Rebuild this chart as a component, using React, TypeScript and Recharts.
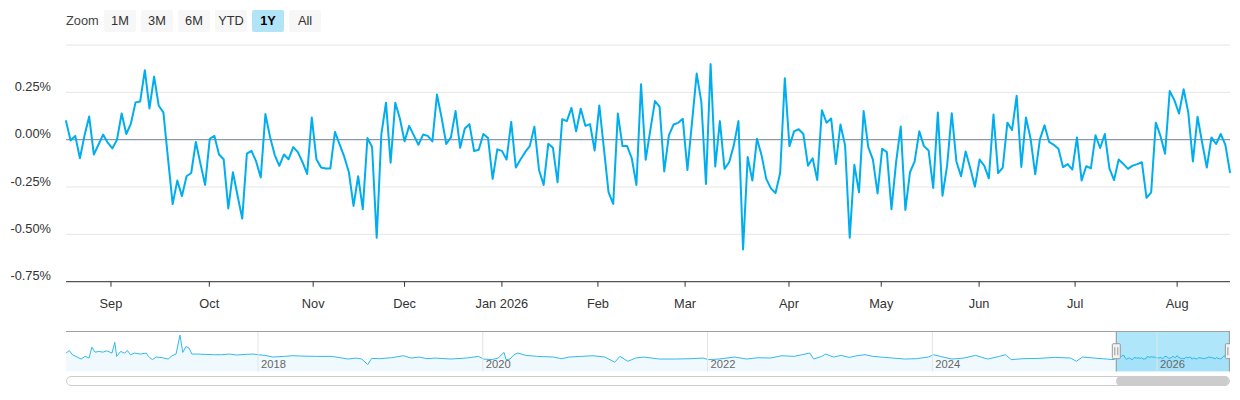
import React from 'react';
import {
  LineChart,
  Line,
  XAxis,
  YAxis,
  CartesianGrid,
  ReferenceLine,
  ReferenceArea,
  AreaChart,
  Area,
} from 'recharts';

const FONT = '"Liberation Sans", Arial, Helvetica, sans-serif';

// Daily values (%) for the visible 1-year window (trading days)
const DAILY_VALUES: number[] = [
  0.098, -0.004, 0.02, -0.098, 0.023, 0.122, -0.078, -0.027, 0.027, -0.016, -0.046, 0, 0.138, 0.03, 0.085, 0.197,
  0.202, 0.367, 0.165, 0.333, 0.179, 0.144, -0.1, -0.34, -0.216, -0.298, -0.193, -0.176, -0.012, -0.128, -0.239, 0.005,
  0.02, -0.078, -0.103, -0.363, -0.172, -0.296, -0.417, -0.074, -0.059, -0.115, -0.2, 0.135, 0.014, -0.08, -0.138,
  -0.078, -0.103, -0.039, -0.066, -0.119, -0.181, 0.117, -0.103, -0.147, -0.152, -0.152, 0.041, -0.025, -0.09, -0.172,
  -0.35,
  -0.193, -0.367, 0.009, -0.039, -0.518, 0.028, 0.195, -0.122, 0.195, 0.112, -0.009, 0.073, 0.023, -0.027, 0.027,
  0.02, -0.009, 0.238, 0.115, -0.023, 0.012, 0.151, -0.043, 0.059, 0.082, -0.06, -0.053, 0.03, 0.009, -0.207, -0.051,
  -0.059, -0.105, 0.094, -0.147, -0.105, -0.066, -0.034, 0.069, -0.16, -0.239, -0.021, -0.043, -0.225, 0.108, 0.098,
  0.168, 0.044, 0.163, 0.073, 0.082, -0.057, 0.181, -0.048, -0.278, -0.339, 0.138, -0.034, -0.034, -0.098, -0.239,
  0.293,
  -0.106, 0.05, 0.204, 0.174, -0.168, 0.023, 0.08, 0.089, 0.11, -0.16, 0.094, 0.349, 0.2, -0.234, 0.399, -0.142,
  0.098, -0.154, -0.119, -0.03, 0.098, -0.58, -0.092, -0.216, 0.005, -0.083, -0.207, -0.257, -0.282, -0.176, 0.324,
  -0.034, 0.044, 0.055, 0.03, -0.137, -0.098, -0.213, 0.156, 0.09, 0.112, -0.129, 0.08, -0.03, -0.518, -0.133,
  -0.278, 0.151, -0.039, -0.105, -0.284, -0.048, -0.066, -0.367, -0.119, 0.069, -0.371, -0.172, -0.115, 0.044,
  -0.034, -0.057,
  -0.255, 0.144, -0.296, -0.137, 0.14, -0.115, -0.193, -0.062, -0.151, -0.248, -0.105, -0.137, -0.204, 0.133, -0.177,
  -0.147, 0.09, 0.051, 0.232, -0.144, 0.117, 0.005, -0.183, 0, 0.076, -0.012, -0.027, -0.048, -0.145, -0.129, -0.158,
  0.012, -0.215, -0.14, -0.151, 0.023, -0.044, 0.03, -0.151, -0.213, -0.105, -0.128, -0.154, -0.137, -0.129, -0.119,
  -0.307, -0.278, 0.09, 0.02, -0.074, 0.257, 0.209, 0.138, 0.266, 0.144, -0.115, 0.121, -0.016, -0.147, 0.012,
  -0.023, 0.03, -0.027, -0.172,
];

// Month starts, expressed as trading-day positions
const MONTH_TICKS: number[] = [9.7, 30.9, 53.3, 73.0, 94.0, 114.7, 133.5, 155.9, 175.8, 196.9, 217.6, 239.6];
const MONTH_LABELS: string[] = ['Sep', 'Oct', 'Nov', 'Dec', 'Jan 2026', 'Feb', 'Mar', 'Apr', 'May', 'Jun', 'Jul', 'Aug'];

const Y_TICKS: number[] = [-0.75, -0.5, -0.25, 0, 0.25, 0.5];

const ZOOM_BUTTONS: string[] = ['1M', '3M', '6M', 'YTD', '1Y', 'All'];
const SELECTED_BUTTON = '1Y';

const NAV_YEAR_TICKS: number[] = [2018, 2020, 2022, 2024, 2026];
const NAV_START_YEAR = 2016.292;
const RANGE_START_YEAR = 2025.633;
const RANGE_END_YEAR = 2026.648;
const NAV_Y_MIN = -1.69;
const NAV_Y_MAX = 3.18;
const NAV_GROUP_SIZE = 3;

// Navigator history before the selected window: [year, value %]
const NAV_HISTORY: [number, number][] = [
  [2016.292, 0.52], [2016.32, 0.83], [2016.348, 0.32], [2016.39, 0.04], [2016.426, -0.2], [2016.461, 0.12],
  [2016.496, -0.08], [2016.521, 1.23], [2016.549, 0.63], [2016.584, 0.71], [2016.619, 0.63], [2016.654, 0.79],
  [2016.7, 0.52], [2016.725, 1.82], [2016.742, 0.12], [2016.777, 0.71], [2016.813, 0.52], [2016.837, 0.83],
  [2016.865, 0.32], [2016.9, 0.52], [2016.953, 0.4], [2017.006, 0.52], [2017.024, 0.12], [2017.059, -0.27],
  [2017.094, 0.04], [2017.147, -0.04], [2017.2, -0.2], [2017.235, 0.2], [2017.27, 0.4], [2017.305, 2.69],
  [2017.33, 0.6], [2017.358, 1.31], [2017.386, 1.11], [2017.411, 0.4], [2017.463, 0.4], [2017.534, 0.36],
  [2017.604, 0.32], [2017.674, 0.32], [2017.745, 0.4], [2017.815, 0.28], [2017.885, 0.36], [2017.956, 0.4],
  [2018.001, 0.32], [2018.061, 0.24], [2018.132, 0.04], [2018.237, 0.12], [2018.307, 0.2], [2018.378, 0.16],
  [2018.518, 0.12], [2018.659, 0.12], [2018.73, -0.04], [2018.8, -0.2], [2018.87, -0.08], [2018.923, -0.2],
  [2018.976, -0.87], [2019.011, -0.12], [2019.081, -0.16], [2019.187, -0.04], [2019.292, 0.2], [2019.363, -0.08],
  [2019.433, 0.04], [2019.503, -0.16], [2019.574, -0.08], [2019.714, -0.2], [2019.855, -0.08], [2019.961, 0.12],
  [2020.006, -0.2], [2020.084, -0.27], [2020.136, -0.08], [2020.189, 0.6], [2020.207, -0.27], [2020.242, -0.2],
  [2020.277, 0.32], [2020.312, 0.52], [2020.383, 0.24], [2020.488, 0.12], [2020.629, 0.04], [2020.699, -0.16],
  [2020.77, 0.04], [2020.875, 0.12], [2020.981, 0.2], [2021.086, 0.04], [2021.174, -0.59], [2021.22, 0.12],
  [2021.291, -0.47], [2021.361, -0.08], [2021.432, 0.04], [2021.572, -0.2], [2021.713, -0.2], [2021.854, -0.16],
  [2021.959, -0.08], [2022.008, -0.27], [2022.1, -0.2], [2022.241, 0.04], [2022.346, -0.2], [2022.452, -0.04],
  [2022.557, -0.08], [2022.663, 0.2], [2022.768, 0.12], [2022.839, 0.32], [2022.909, 0.52], [2022.944, -0.2],
  [2023.015, 0.12], [2023.05, 0.4], [2023.12, 0.04], [2023.19, 0.24], [2023.261, 0.0], [2023.331, 0.2],
  [2023.401, 0.32], [2023.472, 0.12], [2023.542, 0.04], [2023.648, -0.08], [2023.753, -0.2], [2023.859, -0.16],
  [2023.964, 0.04], [2024.01, 0.32], [2024.07, 0.12], [2024.175, -0.2], [2024.281, -0.08], [2024.386, 0.24],
  [2024.492, -0.2], [2024.597, 0.12], [2024.65, 0.32], [2024.703, -0.27], [2024.808, -0.16], [2024.949, -0.12],
  [2025.09, 0.0], [2025.23, -0.08], [2025.283, -0.47], [2025.336, 0.04], [2025.441, -0.08], [2025.547, -0.2],
  [2025.62, -0.27],
];

const mainData = DAILY_VALUES.map((v, i) => ({ i, v }));

// Navigator shows the selected year grouped (averaged) like a data-grouped navigator series
const dayToYear = (i: number) =>
  RANGE_START_YEAR + (i * (RANGE_END_YEAR - RANGE_START_YEAR)) / (DAILY_VALUES.length - 1);
const groupedRecent: { t: number; v: number }[] = [];
for (let s = 0; s < DAILY_VALUES.length; s += NAV_GROUP_SIZE) {
  const chunk = DAILY_VALUES.slice(s, s + NAV_GROUP_SIZE);
  const avg = chunk.reduce((a, b) => a + b, 0) / chunk.length;
  groupedRecent.push({ t: dayToYear(s), v: avg });
}
groupedRecent.push({ t: RANGE_END_YEAR, v: DAILY_VALUES[DAILY_VALUES.length - 1] });

const navData = [...NAV_HISTORY.map(([t, v]) => ({ t, v })), ...groupedRecent];

const LINE_COLOR = '#00aeef';

const YTick = (props: any) => {
  const { y, payload } = props;
  if (payload.value === 0.5) return <g />;
  return (
    <text x={51} y={y - 1.5} textAnchor="end" fontSize={12.8} fill="#333" fontFamily={FONT}>
      {payload.value.toFixed(2)}%
    </text>
  );
};

const XTick = (props: any) => {
  const { x, y, payload } = props;
  const idx = MONTH_TICKS.indexOf(payload.value);
  return (
    <text x={x} y={y + 18.8} textAnchor="middle" fontSize={12.8} fill="#333" fontFamily={FONT}>
      {idx >= 0 ? MONTH_LABELS[idx] : ''}
    </text>
  );
};

const NavYearLabel = (props: any) => {
  const { viewBox, text } = props;
  const x = viewBox ? viewBox.x : 0;
  return (
    <text x={x + 3} y={36.7} fontSize={11.2} fill="#666" fontFamily={FONT}>
      {text}
    </text>
  );
};

const MaskShape = (props: any) => {
  const { x, y, width, height } = props;
  const hw = 8;
  const hh = 15;
  const cy = y + height / 2;
  const handle = (hx: number) => (
    <g>
      <rect x={hx - hw / 2} y={cy - hh / 2} width={hw} height={hh} fill="#f2f2f2" stroke="#999" strokeWidth={1} rx={1} />
      <line x1={hx - 1.5} x2={hx - 1.5} y1={cy - 4} y2={cy + 4} stroke="#999" strokeWidth={1} />
      <line x1={hx + 1.5} x2={hx + 1.5} y1={cy - 4} y2={cy + 4} stroke="#999" strokeWidth={1} />
    </g>
  );
  return (
    <g>
      <rect x={x} y={y} width={width} height={height} fill="rgba(0,174,239,0.31)" />
      <line x1={x + 0.5} x2={x + 0.5} y1={y} y2={y + height} stroke="#999" strokeWidth={1} />
      <line x1={x + width - 0.5} x2={x + width - 0.5} y1={y} y2={y + height} stroke="#999" strokeWidth={1} />
      {handle(x + 0.5)}
      {handle(x + width - 0.5)}
    </g>
  );
};

export default function App() {
  const navLeft = 66;
  const navWidth = 1164;
  const thumbLeft = navLeft + ((RANGE_START_YEAR - NAV_START_YEAR) / (RANGE_END_YEAR - NAV_START_YEAR)) * navWidth;
  const thumbRight = navLeft + navWidth - 1;

  return (
    <div
      style={{
        position: 'absolute',
        left: 0,
        top: 0,
        width: 1240,
        height: 400,
        background: '#fff',
        fontFamily: FONT,
        overflow: 'hidden',
      }}
    >
      {/* Range selector */}
      <div
        style={{
          position: 'absolute',
          left: 66,
          top: 10,
          height: 22,
          lineHeight: '22px',
          fontSize: 12.8,
          color: '#444',
        }}
      >
        Zoom
      </div>
      {ZOOM_BUTTONS.map((b, k) => {
        const sel = b === SELECTED_BUTTON;
        return (
          <div
            key={b}
            style={{
              position: 'absolute',
              left: 104 + k * 37,
              top: 10,
              width: 32,
              height: 22,
              lineHeight: '22px',
              textAlign: 'center',
              fontSize: 12.8,
              borderRadius: 2,
              background: sel ? '#b2e4f7' : '#f7f7f7',
              color: sel ? '#000' : '#333',
              fontWeight: sel ? 'bold' : 'normal',
            }}
          >
            {b}
          </div>
        );
      })}

      {/* Main chart */}
      <div style={{ position: 'absolute', left: 0, top: 0 }}>
        <LineChart width={1240} height={320} data={mainData} margin={{ top: 45, right: 10, bottom: 8.3, left: 6 }}>
          <CartesianGrid horizontal vertical={false} stroke="#e6e6e6" />
          <XAxis
            dataKey="i"
            type="number"
            domain={[0, DAILY_VALUES.length - 1]}
            ticks={MONTH_TICKS}
            interval={0}
            height={30}
            tickSize={5}
            tickMargin={2}
            allowDecimals
            axisLine={{ stroke: '#333' }}
            tickLine={{ stroke: '#333' }}
            tick={<XTick />}
          />
          <YAxis
            type="number"
            domain={[-0.75, 0.5]}
            ticks={Y_TICKS}
            interval={0}
            width={60}
            axisLine={false}
            tickLine={false}
            tick={<YTick />}
          />
          <ReferenceLine y={0} stroke="#7a8799" strokeWidth={1} />
          <Line
            dataKey="v"
            type="linear"
            stroke={LINE_COLOR}
            strokeWidth={2}
            strokeLinejoin="round"
            strokeLinecap="round"
            dot={false}
            activeDot={false}
            isAnimationActive={false}
          />
        </LineChart>
      </div>

      {/* Navigator */}
      <div style={{ position: 'absolute', left: navLeft, top: 331.3 }}>
        <AreaChart width={navWidth} height={40.4} data={navData} margin={{ top: 0, right: 0, bottom: 0, left: 0 }}>
          <XAxis dataKey="t" type="number" domain={[NAV_START_YEAR, RANGE_END_YEAR]} hide />
          <YAxis type="number" domain={[NAV_Y_MIN, NAV_Y_MAX]} hide />
          {NAV_YEAR_TICKS.map((yr) => (
            <ReferenceLine key={yr} x={yr} stroke="#e3e3e3" strokeWidth={1} label={<NavYearLabel text={String(yr)} />} />
          ))}
          <Area
            dataKey="v"
            type="linear"
            baseValue={NAV_Y_MIN}
            stroke="#33b8ec"
            strokeWidth={1}
            fill={LINE_COLOR}
            fillOpacity={0.06}
            dot={false}
            activeDot={false}
            isAnimationActive={false}
          />
          <ReferenceArea
            x1={RANGE_START_YEAR}
            x2={RANGE_END_YEAR}
            y1={NAV_Y_MIN}
            y2={NAV_Y_MAX}
            shape={(p: any) => <MaskShape {...p} />}
          />
        </AreaChart>
      </div>
      <div
        style={{
          position: 'absolute',
          left: navLeft,
          top: 330.8,
          width: navWidth,
          height: 0,
          borderTop: '1px solid #a0a0a0',
        }}
      />

      {/* Scrollbar */}
      <div
        style={{
          position: 'absolute',
          left: navLeft,
          top: 375.7,
          width: navWidth,
          height: 10,
          boxSizing: 'border-box',
          border: '1px solid #cccccc',
          borderRadius: 5,
          background: '#fff',
        }}
      />
      <div
        style={{
          position: 'absolute',
          left: thumbLeft,
          top: 375.7,
          width: thumbRight - thumbLeft,
          height: 10,
          borderRadius: 5,
          background: '#cccccc',
        }}
      />
    </div>
  );
}
